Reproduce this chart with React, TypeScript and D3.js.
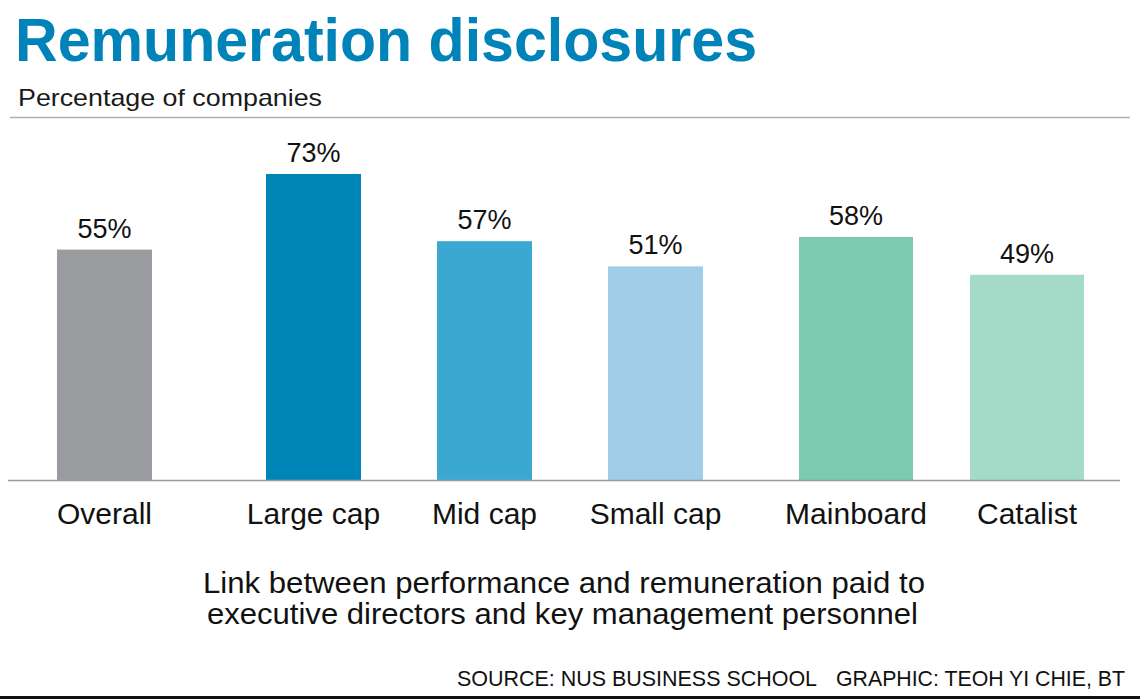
import React, { useEffect } from 'react';
import * as d3 from 'd3';

// chart data
const categories = ['Overall', 'Large cap', 'Mid cap', 'Small cap', 'Mainboard', 'Catalist'];
const values = [55, 73, 57, 51, 58, 49];
const groups = [0, 1, 1, 1, 2, 2];
const barColors = ['#9a9b9f', '#0085b7', '#3aa8d0', '#a0cee8', '#7ccab0', '#a3dac8'];
const footLines = [
  'Link between performance and remuneration paid to',
  'executive directors and key management personnel',
];
const sourceParts = ['SOURCE: NUS BUSINESS SCHOOL', 'GRAPHIC: TEOH YI CHIE, BT'];

const WIDTH = 1140;
const HEIGHT = 699;
const FONT = '"Liberation Sans", Arial, sans-serif';

// layout tweaks for the uneven spacing between the three groups
const groupOffset = [0, 38, 67.5];
const groupBarWidth = [95, 95, 114];
// measured extents of the two footnote lines
const footLeft = [203, 207];
const footWidth = [722, 711];

const App: React.FC = () => {
  useEffect(() => {
    document.body.style.margin = '0';
  }, []);

  const baseline = 480.5;

  const x = d3.scalePoint<string>()
    .domain(categories)
    .range([104.5, 104.5 + 171 * (categories.length - 1)]);

  const y = d3.scaleLinear()
    .domain([0, 73])
    .range([baseline, 174]);

  const center = (i: number) => (x(categories[i]) ?? 0) + groupOffset[groups[i]];

  return (
    <svg width={WIDTH} height={HEIGHT} style={{ display: 'block', background: '#fff' }} fontFamily={FONT}>
      {/* title block */}
      <text x={15} y={61} fontSize={61} fontWeight="bold" fill="#0083b8" textLength={742} lengthAdjust="spacingAndGlyphs">
        Remuneration disclosures
      </text>
      <text x={18} y={106} fontSize={24} fill="#1a1a1a" textLength={304} lengthAdjust="spacingAndGlyphs">
        Percentage of companies
      </text>
      <line x1={10} x2={1130} y1={117.5} y2={117.5} stroke="#b0b0b0" strokeWidth={1.5} />

      {/* bars */}
      {values.map((v, i) => {
        const w = groupBarWidth[groups[i]];
        return (
          <rect
            key={categories[i]}
            x={center(i) - w / 2}
            y={y(v)}
            width={w}
            height={baseline - y(v)}
            fill={barColors[i]}
          />
        );
      })}

      {/* value labels */}
      {values.map((v, i) => (
        <text key={'v' + i} x={center(i)} y={y(v) - 12} fontSize={27} textAnchor="middle" fill="#111">
          {v}%
        </text>
      ))}

      <line x1={8} x2={1120} y1={baseline} y2={baseline} stroke="#9a9a9a" strokeWidth={1.5} />

      {/* category labels */}
      {categories.map((c, i) => (
        <text key={c} x={center(i)} y={524} fontSize={30} textAnchor="middle" fill="#111">
          {c}
        </text>
      ))}

      {/* footnote */}
      {footLines.map((t, i) => (
        <text key={'f' + i} x={footLeft[i]} y={593 + i * 31} fontSize={29} fill="#111"
          textLength={footWidth[i]} lengthAdjust="spacingAndGlyphs">
          {t}
        </text>
      ))}

      {/* source */}
      <text x={457} y={686} fontSize={22} fill="#111" textLength={360} lengthAdjust="spacingAndGlyphs">
        {sourceParts[0]}
      </text>
      <text x={836} y={686} fontSize={22} fill="#111" textLength={289} lengthAdjust="spacingAndGlyphs">
        {sourceParts[1]}
      </text>
      <rect x={0} y={696} width={WIDTH} height={3} fill="#111" />
    </svg>
  );
};

export default App;
